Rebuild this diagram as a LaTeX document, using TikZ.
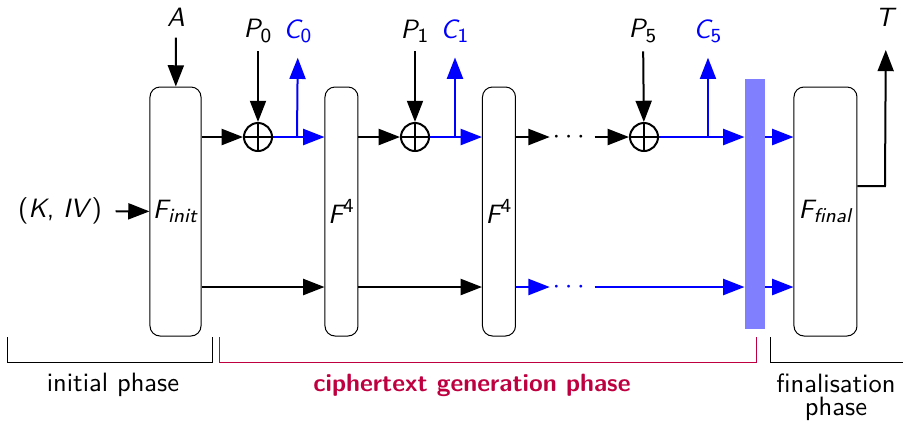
\documentclass[tikz,border=0pt]{standalone}
\usepackage{amsmath}
\usetikzlibrary{arrows.meta,positioning}
\renewcommand{\familydefault}{\sfdefault}
\DeclareMathSizes{10.6}{10.6}{8}{6.5}

\begin{document}
\begin{tikzpicture}[
  x=0.4pt,
  y=-0.4pt,
  font=\fontsize{10.6}{12.7}\selectfont,
  round/.style={
    draw,
    thin,
    rounded corners=4pt,
    inner sep=0pt,
    minimum height=99.6pt
  },
  xor/.style={draw, circle, thick, minimum size=11.2pt, inner sep=0pt},
  arrow/.style={-{Triangle[length=8.5pt,width=6.4pt]}, thick},
  ct/.style={arrow, blue},
  brace/.style={thin}
]
\useasboundingbox (0,0) rectangle (903,422);

% rounds
\node[round, minimum width=20.4pt] (init) at (175.5,211.5) {$\textit{F}_{\textit{init}}$};
\node[round, minimum width=13.2pt] (r1) at (341.5,211.5) {$\textit{F}^{\textup{4}}$};
\node[round, minimum width=13.2pt] (r2) at (499,211.5) {$\textit{F}^{\textup{4}}$};
\node[fill=blue!50, inner sep=0pt, minimum width=8pt, minimum height=100pt] (sync) at (755,204) {};
\node[round, minimum width=25.2pt] (final) at (825.5,211.5) {$\textit{F}_{\textit{final}}$};

% xors
\node[xor] (x0) at (258,137) {};
\node[xor] (x1) at (415,137) {};
\node[xor] (x5) at (644,137) {};
\foreach \x in {x0,x1,x5}
  \draw[thick] (\x.north) -- (\x.south) (\x.west) -- (\x.east);

% inputs and outputs
\node (key) at (60,211) {(\textit{K}, \textit{IV})};
\node (A) at (176,17) {\textit{A}};
\node (T) at (886,17) {\textit{T}};
\node (P0) at (258,31) {$\textit{P}_{\textup{0}}$};
\node[blue] (C0) at (298,31) {$\textit{C}_{\textup{0}}$};
\node (P1) at (415,31) {$\textit{P}_{\textup{1}}$};
\node[blue] (C1) at (455,31) {$\textit{C}_{\textup{1}}$};
\node (P5) at (643,31) {$\textit{P}_{\textup{5}}$};
\node[blue] (C5) at (708,31) {$\textit{C}_{\textup{5}}$};
\node[inner sep=1pt] (dtop) at (571,137) {$\cdots$};
\node[inner sep=1pt, blue] (dbot) at (571,287) {$\cdots$};

\coordinate (low) at (0,287);
\coordinate (b0) at (297,137);
\coordinate (b1) at (455,137);
\coordinate (b5) at (708,137);
\coordinate (tc) at (885,186);

\draw[arrow, shorten <=2pt] (key) -- (init);
\draw[arrow, shorten <=1pt] (A) -- (init);

% upper row
\draw[arrow] (init.east |- x0) -- (x0);
\draw[arrow] (P0) -- (x0);
\draw[ct] (x0) -- (r1.west |- x0);
\draw[ct, shorten >=2.5pt] (b0) -- (C0);
\draw[arrow] (r1.east |- x1) -- (x1);
\draw[arrow] (P1) -- (x1);
\draw[ct] (x1) -- (r2.west |- x1);
\draw[ct, shorten >=2.5pt] (b1) -- (C1);
\draw[arrow] (r2.east |- dtop) -- (dtop);
\draw[arrow, shorten <=1pt] (dtop) -- (x5);
\draw[arrow] (P5) -- (x5);
\draw[ct] (x5) -- (sync.west |- x5);
\draw[ct, shorten >=2.5pt] (b5) -- (C5);
\draw[ct] (sync.east |- x5) -- (final.west |- x5);

% lower row
\draw[arrow] (init.east |- low) -- (r1.west |- low);
\draw[arrow] (r1.east |- low) -- (r2.west |- low);
\draw[ct] (r2.east |- low) -- (dbot);
\draw[ct, shorten <=1pt] (dbot) -- (sync.west |- low);
\draw[ct] (sync.east |- low) -- (final.west |- low);

\draw[arrow, shorten >=6pt] (final.east |- tc) -- (tc) -- (T);

% phases
\draw[brace] (8,337) -- (8,362) -- (213,362) -- (213,337);
\draw[brace, purple] (220,337) -- (220,362) -- (757,362) -- (757,337);
\draw[brace] (771,337) -- (771,362) -- (903,362);
\node (pinit) at (113,385) {initial phase};
\node[purple, font=\bfseries] (pgen) at (472,385) {ciphertext generation phase};
\node[align=center] (pfinal) at (836,397) {finalisation\\[-3.5pt]phase};
\end{tikzpicture}
\end{document}
